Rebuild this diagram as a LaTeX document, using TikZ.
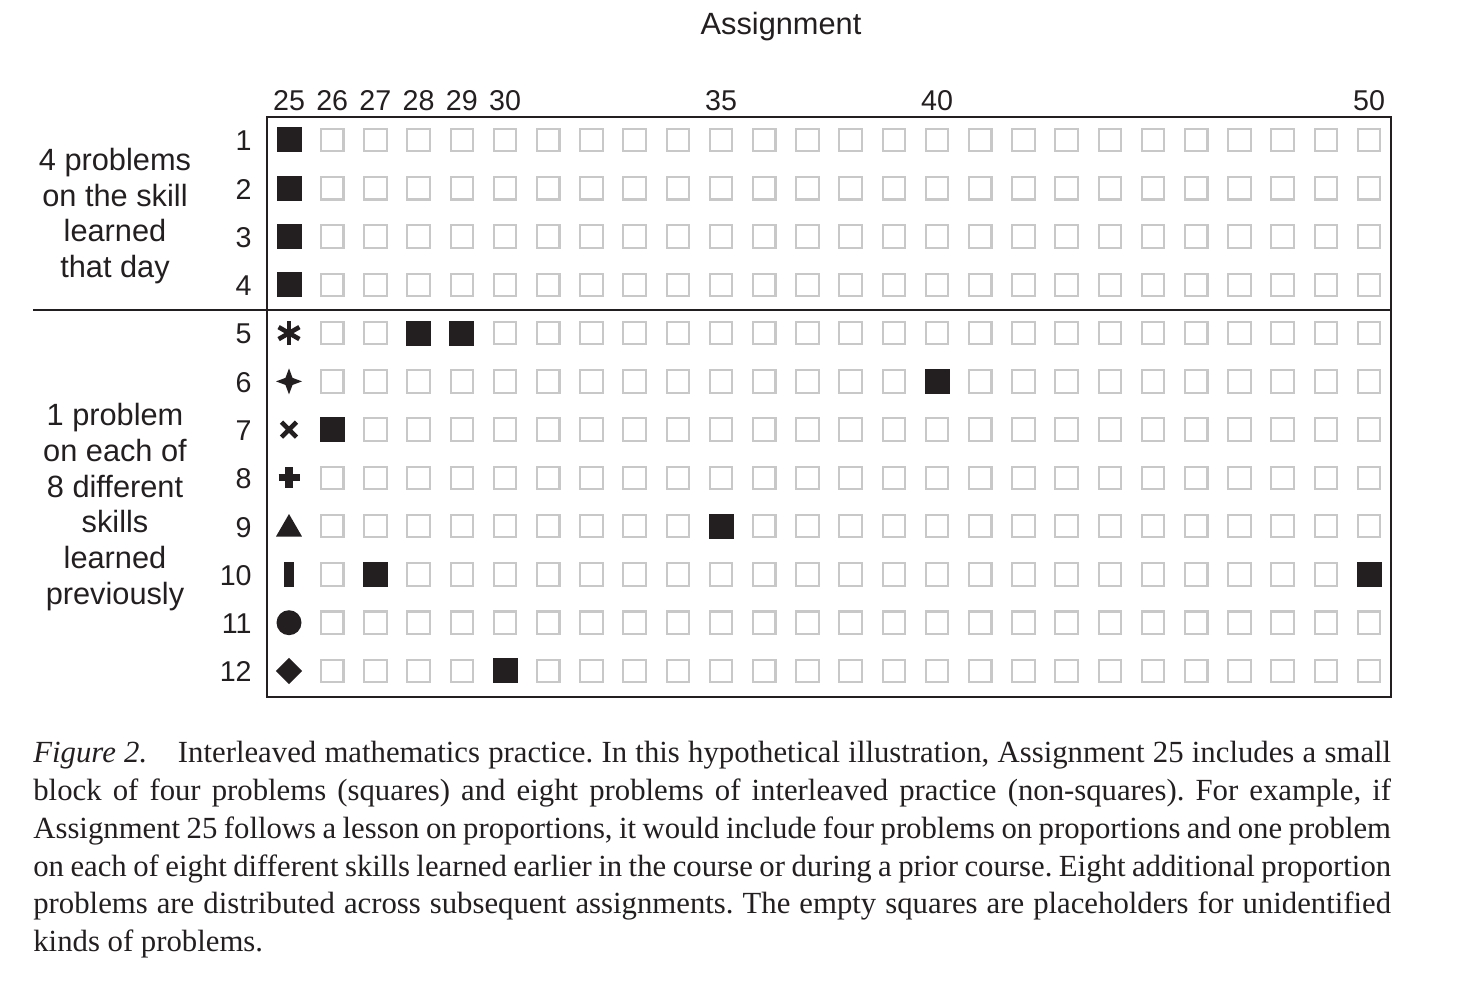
\documentclass[tikz,border=0pt]{standalone}
\usepackage{fontspec}
\setmainfont{Liberation Serif}
\newfontfamily\arial{Liberation Sans}
\usepackage{xstring}
\usetikzlibrary{shapes.geometric}
\definecolor{cellgray}{HTML}{C8C8C8}
\definecolor{cellblack}{HTML}{231F20}
\tikzset{
  emptycell/.style={draw=cellgray, line width=1.2pt, minimum size=0.45cm, inner sep=0pt},
  fullcell/.style={fill=cellblack, minimum size=0.5cm, inner sep=0pt},
  numlabel/.style={font=\arial\fontsize{16.3}{18}\selectfont, text=cellblack, inner sep=0pt},
  sidelabel/.style={font=\arial\fontsize{17.5}{20.3}\selectfont, text=cellblack, align=center, inner sep=0pt},
  symb/.style={fill=cellblack, inner sep=0pt}
}
% extra problems on the skill of assignment 25 (row-column)
\def\fulllist{,5-28,5-29,6-40,7-26,9-35,10-27,10-50,12-30,}
\begin{document}
\frenchspacing
\begin{tikzpicture}[x=0.02cm, y=-0.02cm]
\useasboundingbox (0,0) rectangle (1470,986);

\node[sidelabel] (title) at (781,27) {Assignment};

% column and row numbers
\foreach \c in {25,...,30,35,40,50}
  \node[numlabel, anchor=base] (col\c) at ({289+43.2*(\c-25)},110.5) {\c};
\foreach \r in {1,...,12}
  \node[numlabel, anchor=east] (row\r) at (252,{141+48.27*(\r-1)}) {\r};

% grid of problems
\foreach \r in {1,...,4}
  \node[fullcell] (cell-\r-25) at (289,{140+48.27*(\r-1)}) {};
\foreach \r in {1,...,12}{
  \foreach \c in {26,...,50}{
    \IfSubStr{\fulllist}{,\r-\c,}
      {\node[fullcell] (cell-\r-\c) at ({289+43.2*(\c-25)},{140+48.27*(\r-1)}) {};}
      {\node[emptycell] (cell-\r-\c) at ({289+43.2*(\c-25)},{140+48.27*(\r-1)}) {};}
  }
}

% symbols for the eight older skills
\coordinate (sym5) at (289,333.1);
\foreach \a in {90,30,150}
  \draw[cellblack, line width=2.6pt] ([shift={(\a:12)}]sym5) -- ([shift={(\a+180:12)}]sym5);
\node[symb, star, star points=4, star point ratio=2.6, minimum size=0.52cm] (sym6) at (289,381.4) {};
\coordinate (sym7) at (289,429.6);
\draw[cellblack, line width=2.6pt] ([shift={(-7.5,-7.5)}]sym7) -- ([shift={(7.5,7.5)}]sym7)
  ([shift={(-7.5,7.5)}]sym7) -- ([shift={(7.5,-7.5)}]sym7);
\coordinate (sym8) at (289,477.9);
\draw[cellblack, line width=4pt] ([shift={(-10.5,0)}]sym8) -- ([shift={(10.5,0)}]sym8)
  ([shift={(0,-10.5)}]sym8) -- ([shift={(0,10.5)}]sym8);
\node[symb, regular polygon, regular polygon sides=3, minimum size=0.6cm] (sym9) at (289,529) {};
\node[symb, rectangle, minimum width=0.2cm, minimum height=0.5cm] (sym10) at (289,574.4) {};
\node[symb, circle, minimum size=0.5cm] (sym11) at (289,622.7) {};
\node[symb, diamond, minimum width=0.53cm, minimum height=0.53cm] (sym12) at (289,671) {};

% frame
\draw[cellblack, line width=1.2pt] (267,117) rectangle (1391,697);
\draw[cellblack, line width=1.2pt] (33,310) -- (1391,310);

\node[sidelabel] (skillnow) at (115,216) {4 problems\\on the skill\\learned\\that day};
\node[sidelabel] (skillsold) at (115,507) {1 problem\\on each of\\8 different\\skills\\learned\\previously};

\node[anchor=north west, text width=27.16cm, inner sep=0pt, align=justify,
  font=\fontsize{17.5}{21.5}\selectfont, text=cellblack] (caption) at (33,741)
  {\textit{Figure 2.}\quad Interleaved mathematics practice. In this hypothetical illustration, Assignment 25 includes a small\linebreak
  block of four problems (squares) and eight problems of interleaved practice (non-squares). For example, if\linebreak
  Assignment 25 follows a lesson on proportions, it would include four problems on proportions and one problem\linebreak
  on each of eight different skills learned earlier in the course or during a prior course. Eight additional proportion\linebreak
  problems are distributed across subsequent assignments. The empty squares are placeholders for unidentified\linebreak
  kinds of problems.};
\end{tikzpicture}
\end{document}
